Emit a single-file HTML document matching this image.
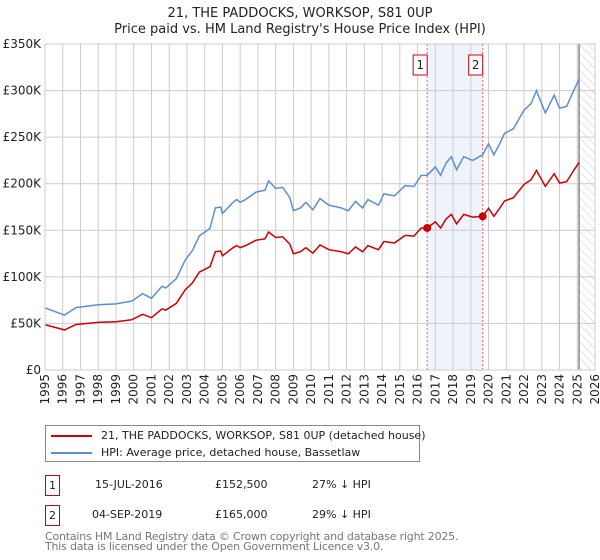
<!DOCTYPE html>
<html><head><meta charset="utf-8"><style>
body{margin:0;width:600px;height:560px;background:#fff;font-family:"DejaVu Sans","Liberation Sans",sans-serif;overflow:hidden}
</style></head><body>
<svg id="c" width="600" height="560" style="position:absolute;left:0;top:0" font-family="DejaVu Sans, Liberation Sans, sans-serif">
<defs><pattern id="hatch" width="6" height="6" patternUnits="userSpaceOnUse" patternTransform="rotate(-45)"><line x1="0" y1="0" x2="0" y2="6" stroke="#ccc" stroke-width="1"/></pattern></defs>
<text x="300" y="17" text-anchor="middle" font-size="13" fill="#222">21, THE PADDOCKS, WORKSOP, S81 0UP</text>
<text x="300" y="33" text-anchor="middle" font-size="13" fill="#222">Price paid vs. HM Land Registry's House Price Index (HPI)</text>
<g id="plot"></g>
</svg>
<script>
const hpiYears=[1995,1996.1,1996.75,1998,1999,1999.9,2000.5,2001,2001.6,2001.8,2002.4,2002.9,2003.3,2003.7,2004.3,2004.6,2004.9,2005,2005.6,2005.8,2006,2006.3,2006.9,2007.4,2007.6,2008,2008.4,2008.8,2009,2009.4,2009.7,2010.1,2010.5,2011,2011.7,2012.1,2012.5,2012.9,2013.2,2013.8,2014.1,2014.4,2014.7,2015.3,2015.8,2016.2,2016.54,2017,2017.3,2017.6,2017.9,2018.2,2018.6,2019.1,2019.67,2020,2020.3,2020.6,2020.9,2021.4,2022,2022.4,2022.7,2023.2,2023.7,2024,2024.4,2024.8,2025.1];
const hpiValues=[66.6,59,67,70,71,74,82,77,90,88,98,118,128,144,152,174,175,168,180,183,180,183,191,193,203,195,196,185,171,174,180,172,184,177,174,171,181,174,183,177,189,188,187,198,197,209,209,218,209,222,229,215,229,225,231,243,231,242,254,259,279,286,300,276,295,281,283,300,312];
const saleYears=[2016.54,2019.67];
const salePrices=[152.5,165];
const saleLabels=["1","2"];
const yTicks=[0,50,100,150,200,250,300,350];
const yTickLabels=["£0","£50K","£100K","£150K","£200K","£250K","£300K","£350K"];
const xTicks=[];for(let y=1995;y<=2026;y++)xTicks.push(y);
const NS="http://www.w3.org/2000/svg";
const L=45,R=595,T=44,B=370,Y0=1995,Y1=2026,VMAX=350;
const xs=y=>L+(y-Y0)/(Y1-Y0)*(R-L);
const ys=v=>B-v/VMAX*(B-T);
const g=document.getElementById('plot');
function mk(t,a,p){const e=document.createElementNS(NS,t);for(const k in a)e.setAttribute(k,a[k]);(p||g).appendChild(e);return e;}
function hpiAt(y){for(let i=0;i<hpiYears.length-1;i++){if(y<=hpiYears[i+1]){const f=(y-hpiYears[i])/(hpiYears[i+1]-hpiYears[i]);return hpiValues[i]+f*(hpiValues[i+1]-hpiValues[i]);}}return hpiValues[hpiValues.length-1];}
let e=mk('rect',{x:xs(saleYears[0]),y:T,width:xs(saleYears[1])-xs(saleYears[0]),height:B-T,fill:'#eef3fc'});

const lastY=hpiYears[hpiYears.length-1];
e=mk('rect',{x:xs(lastY),y:T,width:R-xs(lastY),height:B-T,fill:'url(#hatch)'});

xTicks.forEach(y=>{const l=mk('line',{x1:xs(y),x2:xs(y),y1:T,y2:B,stroke:'#ccc','stroke-width':1});
const t=mk('text',{x:0,y:0,transform:`translate(${xs(y)+4},${B+4}) rotate(-90)`,'text-anchor':'end','font-size':12,fill:'#222'});t.textContent=y;});
yTicks.forEach((v,i)=>{const l=mk('line',{x1:L,x2:R,y1:ys(v),y2:ys(v),stroke:'#ccc','stroke-width':1});
const t=mk('text',{x:L-4,y:ys(v)+4,'text-anchor':'end','font-size':12,fill:'#222'});t.textContent=yTickLabels[i];});
e=mk('line',{x1:xs(lastY),x2:xs(lastY),y1:T,y2:B,stroke:'#888','stroke-width':1.5});

saleYears.forEach((y,i)=>{const l=mk('line',{x1:xs(y),x2:xs(y),y1:T,y2:B,stroke:'#f06070','stroke-width':1,'stroke-dasharray':'2,2'});
const r=mk('rect',{x:xs(y)-14,y:55,width:14,height:20,fill:'#fff',stroke:'#c00','stroke-width':1});
const t=mk('text',{x:xs(y)-7,y:69,'text-anchor':'middle','font-size':12,fill:'#222'});t.textContent=saleLabels[i];});
e=mk('polyline',{points:hpiYears.map((y,i)=>xs(y)+','+ys(hpiValues[i])).join(' '),fill:'none',stroke:'#5b8fd0','stroke-width':1.5});

const r1=salePrices[0]/hpiAt(saleYears[0]),r2=salePrices[1]/hpiAt(saleYears[1]);
const pts=[];hpiYears.forEach((y,i)=>{if(y<saleYears[1])pts.push([y,hpiValues[i]*r1]);});
pts.push([saleYears[1],salePrices[1]]);
hpiYears.forEach((y,i)=>{if(y>saleYears[1])pts.push([y,hpiValues[i]*r2]);});
e=mk('polyline',{points:pts.map(p=>xs(p[0])+','+ys(p[1])).join(' '),fill:'none',stroke:'#cc0000','stroke-width':1.5});

saleYears.forEach((y,i)=>{const c=mk('circle',{cx:xs(y),cy:ys(salePrices[i]),r:4,fill:'#cc0000'});});
e=mk('rect',{x:L,y:T,width:R-L,height:B-T,fill:'none',stroke:'#ccc'});

</script>
<div style="position:absolute;left:45px;top:425px;width:373px;height:35px;border:1px solid #888;font-size:11px;color:#222">
<div style="position:absolute;left:5px;top:3px;white-space:nowrap"><span style="display:inline-block;width:41px;height:2px;background:#cc0000;vertical-align:middle;margin-right:9px"></span>21, THE PADDOCKS, WORKSOP, S81 0UP (detached house)</div>
<div style="position:absolute;left:5px;top:20px;white-space:nowrap"><span style="display:inline-block;width:41px;height:2px;background:#5b8fd0;vertical-align:middle;margin-right:9px"></span>HPI: Average price, detached house, Bassetlaw</div>
</div>
<div style="position:absolute;left:0;top:0;font-size:11px;color:#222">
<div>
<div style="position:absolute;left:45px;top:475px;width:13px;height:19px;border:1px solid #c00;text-align:center;line-height:19px">1</div>
<div style="position:absolute;left:95px;top:478px;white-space:nowrap">15-JUL-2016</div>
<div style="position:absolute;left:215px;top:478px;white-space:nowrap">£152,500</div>
<div style="position:absolute;left:312px;top:478px;white-space:nowrap">27% ↓ HPI</div></div>
<div>
<div style="position:absolute;left:45px;top:505px;width:13px;height:19px;border:1px solid #c00;text-align:center;line-height:19px">2</div>
<div style="position:absolute;left:92px;top:508px;white-space:nowrap">04-SEP-2019</div>
<div style="position:absolute;left:215px;top:508px;white-space:nowrap">£165,000</div>
<div style="position:absolute;left:312px;top:508px;white-space:nowrap">29% ↓ HPI</div></div>
</div>
<div style="position:absolute;left:45px;top:532px;font-size:11px;color:#777;line-height:10px;white-space:nowrap;letter-spacing:-0.2px">Contains HM Land Registry data © Crown copyright and database right 2025.<br>This data is licensed under the Open Government Licence v3.0.</div>
</body></html>
